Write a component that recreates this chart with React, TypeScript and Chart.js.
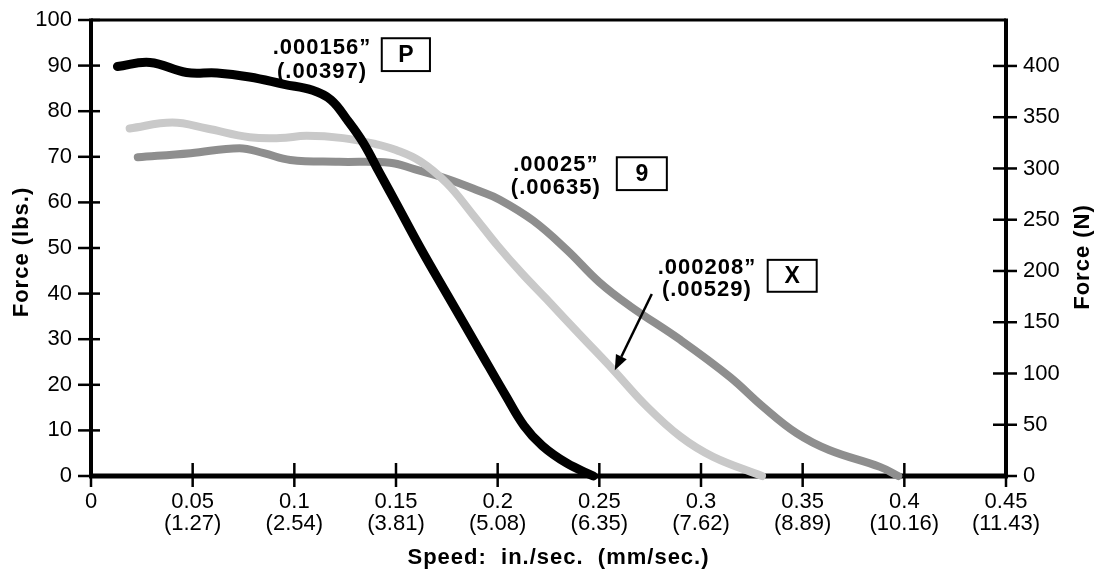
import React, { useEffect, useRef } from "react";
import { Chart, registerables } from "chart.js";

Chart.register(...registerables);

// ---------- data ----------
const xTickIn = ["0", "0.05", "0.1", "0.15", "0.2", "0.25", "0.3", "0.35", "0.4", "0.45"];
const xTickMm = ["", "(1.27)", "(2.54)", "(3.81)", "(5.08)", "(6.35)", "(7.62)", "(8.89)", "(10.16)", "(11.43)"];
const LBS_TO_N = 4.44822;

// .000156" (.00397) – P  (black)
const pSpeed = [0.013, 0.029, 0.047, 0.062, 0.078, 0.095, 0.109, 0.118, 0.126, 0.134, 0.142, 0.150, 0.162, 0.175, 0.191, 0.204, 0.213, 0.222, 0.234, 0.247];
const pForce = [89.8, 90.7, 88.5, 88.4, 87.5, 85.9, 84.6, 82.5, 78.1, 73.0, 66.4, 59.9, 50.0, 39.9, 27.6, 17.6, 11.0, 6.6, 2.8, 0];

// .000208" (.00529) – X  (light gray)
const xSpeed = [0.019, 0.040, 0.057, 0.078, 0.093, 0.106, 0.124, 0.140, 0.150, 0.162, 0.175, 0.188, 0.200, 0.212, 0.224, 0.240, 0.257, 0.273, 0.290, 0.306, 0.330];
const xForce = [76.2, 77.5, 76.2, 74.3, 74.1, 74.6, 74.1, 72.8, 71.5, 69.0, 64.2, 57.2, 50.5, 44.4, 38.8, 31.2, 23.2, 15.4, 8.6, 4.2, 0];

// .00025" (.00635) – 9  (dark gray)
const nSpeed = [0.023, 0.049, 0.073, 0.085, 0.098, 0.122, 0.147, 0.159, 0.175, 0.191, 0.201, 0.2175, 0.234, 0.250, 0.265, 0.290, 0.314, 0.3305, 0.347, 0.363, 0.388, 0.397];
const nForce = [69.9, 70.8, 71.9, 70.8, 69.3, 68.9, 68.7, 67.3, 65.2, 62.5, 60.6, 56.0, 49.6, 42.5, 37.3, 29.8, 21.8, 15.2, 9.4, 5.7, 2.0, 0];

// annotation labels (anchored in data units)
const annoLines = [
  [".000156\u201D", "(.00397)"],
  [".00025\u201D", "(.00635)"],
  [".000208\u201D", "(.00529)"],
];
const annoTextX = [0.1136, 0.2286, 0.3029];
const annoTextY = [[93.9, 88.6], [68.2, 63.2], [45.6, 40.8]];
const annoBoxLabel = ["P", "9", "X"];
const annoBoxX = [[0.143, 0.1667], [0.2586, 0.2832], [0.3328, 0.3569]];
const annoBoxY = [[96.0, 88.8], [69.9, 62.7], [47.4, 40.4]];
const arrowFrom = [0.2758, 39.9];
const arrowTo = [0.2576, 23.2];

const toPts = (xs: number[], ys: number[]) => xs.map((x, i) => ({ x, y: ys[i] }));

const FONT = '"Liberation Sans", Arial, Helvetica, sans-serif';

const decor = {
  id: "decor",
  beforeDatasetsDraw(chart: any) {
    const { ctx, chartArea: a, scales } = chart;
    const { left, right, top, bottom } = a;
    ctx.save();
    ctx.strokeStyle = "#000";
    ctx.lineCap = "butt";
    // frame
    ctx.lineWidth = 3;
    ctx.beginPath(); ctx.moveTo(left, top); ctx.lineTo(right, top); ctx.stroke();
    ctx.lineWidth = 4;
    ctx.beginPath(); ctx.moveTo(left, top - 1.5); ctx.lineTo(left, bottom); ctx.stroke();
    ctx.beginPath(); ctx.moveTo(right, top - 1.5); ctx.lineTo(right, bottom); ctx.stroke();
    ctx.lineWidth = 5;
    ctx.beginPath(); ctx.moveTo(left - 2, bottom); ctx.lineTo(right + 2, bottom); ctx.stroke();
    // ticks
    ctx.lineWidth = 2.5;
    scales.y.ticks.forEach((t: any) => {
      const py = scales.y.getPixelForValue(t.value);
      ctx.beginPath(); ctx.moveTo(left - 13, py); ctx.lineTo(left + 9, py); ctx.stroke();
    });
    scales.yN.ticks.forEach((t: any) => {
      const py = scales.yN.getPixelForValue(t.value);
      ctx.beginPath(); ctx.moveTo(right - 13, py); ctx.lineTo(right + 11, py); ctx.stroke();
    });
    scales.x.ticks.forEach((t: any) => {
      const px = scales.x.getPixelForValue(t.value);
      ctx.beginPath(); ctx.moveTo(px, bottom - 13); ctx.lineTo(px, bottom + 11); ctx.stroke();
    });
    // axis titles
    ctx.fillStyle = "#000";
    ctx.font = `bold 22px ${FONT}`;
    (ctx as any).letterSpacing = "1px";
    ctx.textAlign = "center";
    ctx.textBaseline = "middle";
    ctx.fillText("Speed:  in./sec.  (mm/sec.)", (left + right) / 2 + 10, bottom + 82);
    ctx.save();
    ctx.translate(22, (top + bottom) / 2 + 4);
    ctx.rotate(-Math.PI / 2);
    ctx.fillText("Force (lbs.)", 0, 0);
    ctx.restore();
    ctx.save();
    ctx.translate(right + 77, (top + bottom) / 2 + 9);
    ctx.rotate(-Math.PI / 2);
    ctx.fillText("Force (N)", 0, 0);
    ctx.restore();
    ctx.restore();
  },
  afterDatasetsDraw(chart: any) {
    const { ctx, scales } = chart;
    const xs = scales.x, ys = scales.y;
    ctx.save();
    ctx.fillStyle = "#000";
    ctx.strokeStyle = "#000";
    ctx.textAlign = "center";
    ctx.textBaseline = "middle";
    annoLines.forEach((lines, i) => {
      ctx.font = `bold 22px ${FONT}`;
      (ctx as any).letterSpacing = "1px";
      lines.forEach((t, j) => {
        ctx.fillText(t, xs.getPixelForValue(annoTextX[i]), ys.getPixelForValue(annoTextY[i][j]));
      });
      const x0 = xs.getPixelForValue(annoBoxX[i][0]);
      const x1 = xs.getPixelForValue(annoBoxX[i][1]);
      const y0 = ys.getPixelForValue(annoBoxY[i][0]);
      const y1 = ys.getPixelForValue(annoBoxY[i][1]);
      ctx.fillStyle = "#fff";
      ctx.fillRect(x0, y0, x1 - x0, y1 - y0);
      ctx.fillStyle = "#000";
      ctx.lineWidth = 2;
      ctx.strokeRect(x0, y0, x1 - x0, y1 - y0);
      (ctx as any).letterSpacing = "0px";
      ctx.font = `bold 23px ${FONT}`;
      ctx.fillText(annoBoxLabel[i], (x0 + x1) / 2, (y0 + y1) / 2 + 1);
    });
    // arrow
    const ax0 = xs.getPixelForValue(arrowFrom[0]), ay0 = ys.getPixelForValue(arrowFrom[1]);
    const ax1 = xs.getPixelForValue(arrowTo[0]), ay1 = ys.getPixelForValue(arrowTo[1]);
    const ang = Math.atan2(ay1 - ay0, ax1 - ax0);
    const hl = 15, hw = 6;
    const bx = ax1 - hl * Math.cos(ang), by = ay1 - hl * Math.sin(ang);
    ctx.lineWidth = 2.5;
    ctx.beginPath(); ctx.moveTo(ax0, ay0); ctx.lineTo(bx, by); ctx.stroke();
    ctx.beginPath();
    ctx.moveTo(ax1, ay1);
    ctx.lineTo(bx + hw * Math.sin(ang), by - hw * Math.cos(ang));
    ctx.lineTo(bx - hw * Math.sin(ang), by + hw * Math.cos(ang));
    ctx.closePath();
    ctx.fill();
    ctx.restore();
  },
};

export default function App() {
  const ref = useRef<HTMLCanvasElement | null>(null);
  useEffect(() => {
    if (!ref.current) return;
    const lineDs = (label: string, data: any, color: string, width: number, order: number) => ({
      label,
      data,
      borderColor: color,
      backgroundColor: color,
      borderWidth: width,
      borderCapStyle: "round" as const,
      borderJoinStyle: "round" as const,
      pointRadius: 0,
      showLine: true,
      fill: false,
      tension: 0.4,
      clip: false as any,
      order,
      yAxisID: "y",
    });
    const chart = new Chart(ref.current, {
      type: "scatter",
      data: {
        datasets: [
          lineDs(annoLines[0].join(" "), toPts(pSpeed, pForce), "#000000", 9, 1),
          lineDs(annoLines[2].join(" "), toPts(xSpeed, xForce), "#c9c9c9", 8, 2),
          lineDs(annoLines[1].join(" "), toPts(nSpeed, nForce), "#8e8e8e", 8, 3),
        ],
      },
      options: {
        responsive: false,
        animation: false,
        layout: { padding: { top: 20, left: 0, right: 0, bottom: 0 } },
        plugins: { legend: { display: false }, tooltip: { enabled: false }, title: { display: false } },
        scales: {
          x: {
            type: "linear",
            min: 0,
            max: 0.45,
            grid: { display: false, drawTicks: true, tickLength: 11 },
            border: { display: false },
            ticks: {
              stepSize: 0.05,
              maxRotation: 0,
              autoSkip: false,
              padding: 4,
              color: "#000",
              font: { family: FONT, size: 22, lineHeight: 1.0 },
              callback: (_v: any, i: number) => (xTickMm[i] ? [xTickIn[i], xTickMm[i]] : xTickIn[i]),
            },
            afterFit: (s: any) => { s.height = 95; },
          },
          y: {
            type: "linear",
            position: "left",
            min: 0,
            max: 100,
            grid: { display: false, drawTicks: true, tickLength: 13 },
            border: { display: false },
            ticks: { stepSize: 10, padding: 6, color: "#000", font: { family: FONT, size: 22 } },
            afterFit: (s: any) => { s.width = 91; },
          },
          yN: {
            type: "linear",
            position: "right",
            min: 0,
            max: 100 * LBS_TO_N,
            grid: { display: false, drawTicks: true, tickLength: 11 },
            border: { display: false },
            ticks: { stepSize: 50, includeBounds: false, padding: 6, color: "#000", font: { family: FONT, size: 22 } },
            afterFit: (s: any) => { s.width = 96; },
          },
        },
      },
      plugins: [decor],
    });
    return () => chart.destroy();
  }, []);
  return (
    <div style={{ position: "fixed", left: 0, top: 0, width: 1102, height: 571, background: "#fff" }}>
      <canvas ref={ref} width={1102} height={571} style={{ display: "block" }} />
    </div>
  );
}
